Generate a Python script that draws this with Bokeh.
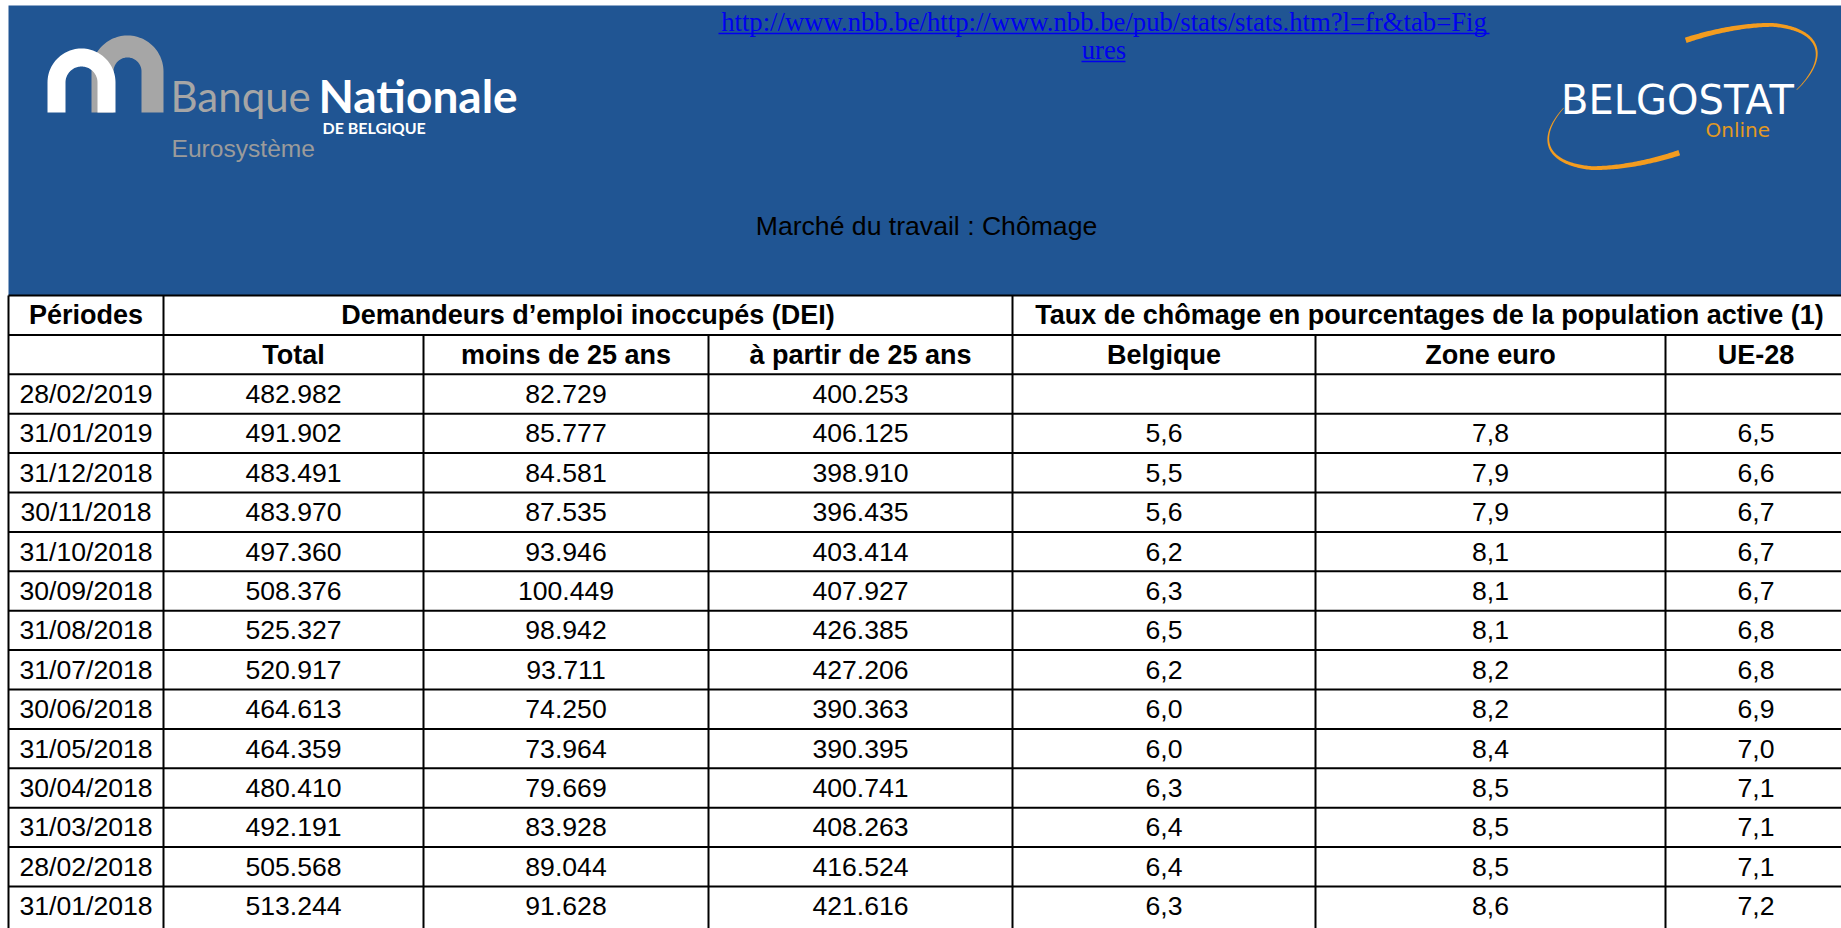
import numpy as np
from bokeh.plotting import figure
from bokeh.models import Range1d, ColumnDataSource
from bokeh.core.properties import value
from bokeh.embed import file_html
from bokeh.resources import INLINE

# ---------------- data ----------------
periods = ["28/02/2019", "31/01/2019", "31/12/2018", "30/11/2018", "31/10/2018",
           "30/09/2018", "31/08/2018", "31/07/2018", "30/06/2018", "31/05/2018",
           "30/04/2018", "31/03/2018", "28/02/2018", "31/01/2018"]
total = [482982, 491902, 483491, 483970, 497360, 508376, 525327, 520917,
         464613, 464359, 480410, 492191, 505568, 513244]
moins_25 = [82729, 85777, 84581, 87535, 93946, 100449, 98942, 93711,
            74250, 73964, 79669, 83928, 89044, 91628]
partir_25 = [400253, 406125, 398910, 396435, 403414, 407927, 426385, 427206,
             390363, 390395, 400741, 408263, 416524, 421616]
belgique = [None, 5.6, 5.5, 5.6, 6.2, 6.3, 6.5, 6.2, 6.0, 6.0, 6.3, 6.4, 6.4, 6.3]
zone_euro = [None, 7.8, 7.9, 7.9, 8.1, 8.1, 8.1, 8.2, 8.2, 8.4, 8.5, 8.5, 8.5, 8.6]
ue_28 = [None, 6.5, 6.6, 6.7, 6.7, 6.7, 6.8, 6.8, 6.9, 7.0, 7.1, 7.1, 7.1, 7.2]

group_headers = ["Périodes", "Demandeurs d’emploi inoccupés (DEI)",
                 "Taux de chômage en pourcentages de la population active (1)"]
column_headers = ["", "Total", "moins de 25 ans", "à partir de 25 ans",
                  "Belgique", "Zone euro", "UE-28"]
title = "Marché du travail : Chômage"
url_lines = ["http://www.nbb.be/http://www.nbb.be/pub/stats/stats.htm?l=fr&tab=Fig", "ures"]

# ---------------- layout ----------------
W, H = 1841, 928
BLUE = "#205593"
col_edges = [8, 163, 423, 708, 1012, 1315, 1665, 1846]
group_spans = [(0, 1), (1, 4), (4, 7)]
table_top = 295
row_h = 39.4
n_rows = len(periods) + 2
bottom = H + 10


def fmt_int(v):
    return f"{v:,}".replace(",", ".")


def fmt_dec(v):
    return "" if v is None else f"{v:.1f}".replace(".", ",")


p = figure(width=W, height=H, x_range=Range1d(0, W), y_range=Range1d(H, 0),
           x_axis_type=None, y_axis_type=None, output_backend="svg",
           toolbar_location=None, min_border=0, outline_line_color=None,
           background_fill_color="white", border_fill_color="white")

# banner
p.quad(left=[8], right=[1860], top=[5], bottom=[table_top], color=BLUE, line_color=None)

# ---- BNB logo arches ----
def arch(cx, cy, R, r, yb):
    th = np.linspace(np.pi, 0, 60)
    xo = list(cx + R * np.cos(th)); yo = list(cy - R * np.sin(th))
    xi = list(cx + r * np.cos(th[::-1])); yi = list(cy - r * np.sin(th[::-1]))
    xs = [cx - R] + xo + [cx + R, cx + r] + xi + [cx - r]
    ys = [yb] + yo + [yb, yb] + yi + [yb]
    return xs, ys

gx, gy = arch(127, 71, 36, 14, 112)
p.patch(gx, gy, color="#A6A6A6", line_color=None)
wx, wy = arch(81, 82, 34, 16, 112)
p.patch(wx, wy, color="white", line_color=None)

p.text(x=[170], y=[95], text=["Banque"], text_font=value("Lato"), text_font_size="42px",
       text_color="#A6A6A6", text_baseline="middle", text_align="left")
p.text(x=[318], y=[95], text=["Nationale"], text_font=value("Lato"), text_font_size="46px",
       text_font_style="bold", text_color="white", text_baseline="middle", text_align="left")
p.text(x=[322], y=[127], text=["DE BELGIQUE"], text_font=value("Lato"), text_font_size="16px",
       text_font_style="bold", text_color="white", text_baseline="middle", text_align="left")
p.text(x=[171], y=[148], text=["Eurosystème"], text_font=value("Liberation Sans"),
       text_font_size="24.6px", text_color="#9B9B9B", text_baseline="middle", text_align="left")

# ---- URL (link style) ----
p.text(x=[1103.5, 1103.5], y=[21, 49], text=url_lines, text_font=value("Liberation Serif"),
       text_font_size="26.7px", text_color="#0000EE", text_baseline="middle", text_align="center")
p.segment(x0=[718, 1081], y0=[33, 61], x1=[1489, 1125], y1=[33, 61],
          line_color="#0000EE", line_width=1.5)

# ---- title ----
p.text(x=[926], y=[225], text=[title], text_font=value("Liberation Sans"), text_font_size="26.6px",
       text_color="black", text_baseline="middle", text_align="center")

# ---- Belgostat logo ----
u = np.array([125.0, -13.0]); v = np.array([59.0, -70.0])

def swoosh(center, t0, t1, w0, w1):
    t = np.linspace(t0, t1, 140)
    s = 1 - 0.08 * np.clip(1 - np.abs(t - t0) / 40.0, 0, 1)
    tr = np.radians(t)
    pts = np.asarray(center)[None, :] + s[:, None] * (np.cos(tr)[:, None] * u[None, :]
                                                      + np.sin(tr)[:, None] * v[None, :])
    d = np.gradient(pts, axis=0)
    nrm = np.stack([-d[:, 1], d[:, 0]], axis=1)
    nrm /= np.linalg.norm(nrm, axis=1)[:, None]
    w = np.linspace(w0, w1, len(t))[:, None] / 2
    a = pts + nrm * w; b = pts - nrm * w
    poly = np.concatenate([a, b[::-1]])
    return list(poly[:, 0]), list(poly[:, 1])

for center, t0, t1 in [((1678.0, 95.0), 112, -6), ((1686.0, 97.0), 292, 178)]:
    sx, sy = swoosh(center, t0, t1, 5.5, 0.6)
    p.patch(sx, sy, color="#F39C1F", line_color=None)

p.text(x=[1677], y=[99], text=["BELGOSTAT"], text_font=value("DejaVu Sans"), text_font_size="40px",
       text_color="white", text_baseline="middle", text_align="center")
p.text(x=[1705], y=[129], text=["Online"], text_font=value("DejaVu Sans"), text_font_size="20px",
       text_color="#E39A21", text_baseline="middle", text_align="left")

# ---- table grid ----
hx0, hx1, hy = [], [], []
for k in range(n_rows):
    yk = table_top + k * row_h
    hx0.append(col_edges[0]); hx1.append(col_edges[-1]); hy.append(yk)
p.segment(x0=hx0, y0=hy, x1=hx1, y1=hy, line_color="black", line_width=2)

vx, vy0 = [], []
group_edges = {col_edges[s] for s, _ in group_spans}
for j, xe in enumerate(col_edges[:-1]):
    vx.append(xe)
    vy0.append(table_top if xe in group_edges else table_top + row_h)
p.segment(x0=vx, y0=vy0, x1=vx, y1=[bottom] * len(vx), line_color="black", line_width=2)

# ---- header texts ----
gcx = [(col_edges[s] + col_edges[e]) / 2 for s, e in group_spans]
p.text(x=gcx, y=[table_top + 0.5 * row_h] * len(gcx), text=group_headers,
       text_font=value("Liberation Sans"), text_font_size="27px", text_font_style="bold",
       text_color="black", text_align="center", text_baseline="middle")
ccx = [(col_edges[j] + col_edges[j + 1]) / 2 for j in range(len(column_headers))]
p.text(x=ccx, y=[table_top + 1.5 * row_h] * len(ccx), text=column_headers,
       text_font=value("Liberation Sans"), text_font_size="27px", text_font_style="bold",
       text_color="black", text_align="center", text_baseline="middle")

# ---- data cells ----
columns = [periods,
           [fmt_int(t) for t in total],
           [fmt_int(t) for t in moins_25],
           [fmt_int(t) for t in partir_25],
           [fmt_dec(t) for t in belgique],
           [fmt_dec(t) for t in zone_euro],
           [fmt_dec(t) for t in ue_28]]
cx, cy, ct = [], [], []
for i in range(len(periods)):
    for j, col in enumerate(columns):
        if col[i] == "":
            continue
        cx.append(ccx[j]); cy.append(table_top + (i + 2.5) * row_h); ct.append(col[i])
src = ColumnDataSource(dict(x=cx, y=cy, text=ct))
p.text(x="x", y="y", text="text", source=src, text_font=value("Liberation Sans"),
       text_font_size="26.6px", text_color="black", text_align="center", text_baseline="middle")

open("out.html", "w").write(file_html(p, INLINE))
